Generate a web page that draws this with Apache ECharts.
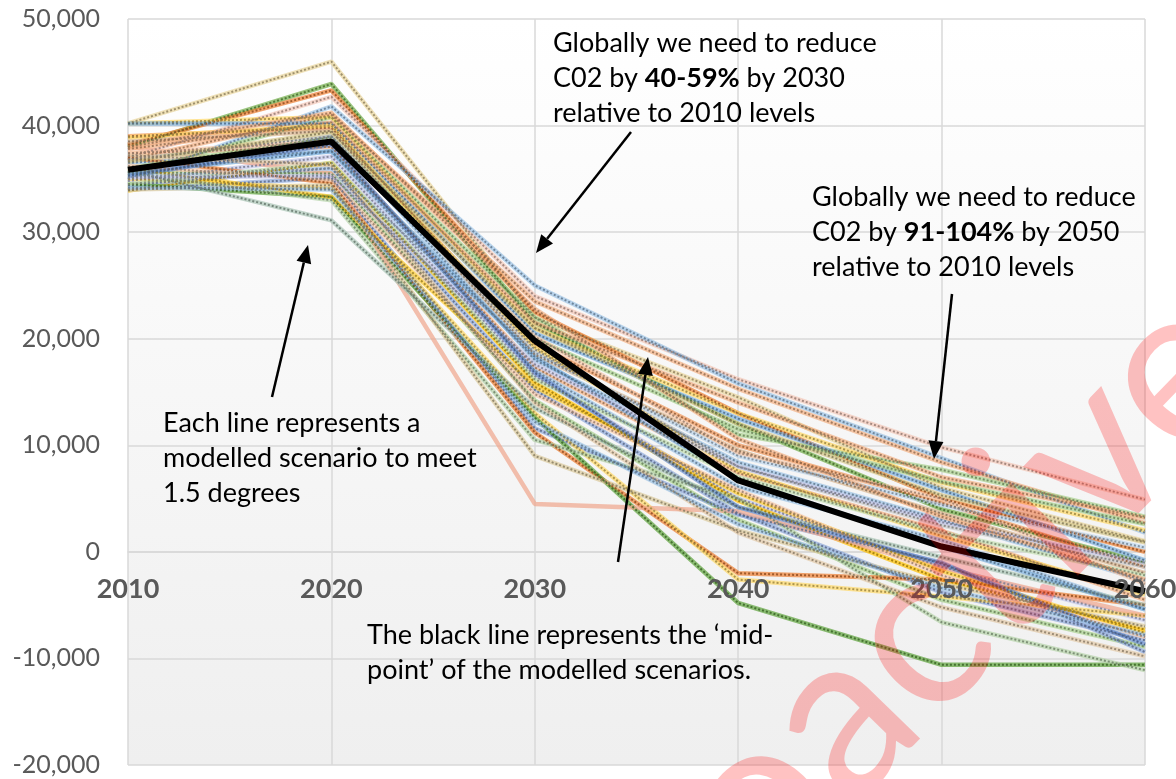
<!DOCTYPE html>
<html><head><meta charset="utf-8">
<script src="https://cdn.jsdelivr.net/npm/echarts@6/dist/echarts.min.js"></script>
<style>html,body{margin:0;padding:0;background:#fff}#c{width:1176px;height:779px}</style>
</head><body><div id="c"></div>
<script>
// ---- data ----
const years = ['2010', '2020', '2030', '2040', '2050', '2060'];
const yMin = -20000, yMax = 50000, yStep = 10000;
const midpoint = [35850, 38500, 19800, 6700, 500, -3700];

const sc01 = [40200, 46000, 22000, 14500, 6000, 1000];
const sc02 = [38000, 43900, 21500, 12000, 4000, -1000];
const sc03 = [38200, 43300, 22500, 13000, 5000, 0];
const sc04 = [37000, 42700, 24000, 16200, 9800, 4900];
const sc05 = [35000, 41800, 25000, 15800, 8800, 1800];
const sc06 = [36800, 41000, 23500, 15300, 8400, 2700];
const sc07 = [35500, 40800, 22000, 11000, 7700, 3300];
const sc08 = [40200, 40800, 21000, 13000, 6500, 2000];
const sc09 = [40200, 40200, 20500, 12500, 5800, -800];
const sc10 = [39000, 39800, 19500, 10000, 4600, -1400];
const sc11 = [38500, 39500, 18500, 9500, 3600, -2000];
const sc12 = [35000, 39000, 18000, 8400, 3000, -2700];
const sc13 = [37400, 38000, 17300, 7400, 2000, -4500];
const sc14 = [36500, 37600, 17000, 6100, 1100, -5400];
const sc15 = [34800, 37100, 16500, 5000, -1400, -6400];
const sc16 = [33900, 36500, 15900, 4800, -2600, -7300];
const sc17 = [34400, 36000, 15200, 3600, -3800, -8300];
const sc18 = [35600, 35500, 14200, 3000, -4500, -8900];
const sc19 = [34000, 35100, 11600, 3500, -1000, -9400];
const sc20 = [37000, 34600, 11200, -2000, -2600, -5000];
const sc21 = [35000, 34100, 13000, -2600, -4200, -6000];
const sc22 = [34500, 33300, 12600, -4800, -10600, -10600];
const sc23 = [35500, 33000, 10500, 5000, -6600, -11100];
const sc24 = [34000, 34400, 9000, 2000, -3000, -7000];
const sc25 = [38000, 35500, 4500, 3800, -1500, -6000];
const sc26 = [35800, 31100, 13500, 4200, -500, -5000];
const sc27 = [36000, 33300, 15500, 5500, -1800, -7600];
const sc28 = [35200, 36000, 18700, 9000, 4400, 400];
const sc29 = [36000, 38900, 20000, 11500, 6600, 2600];
const sc30 = [37800, 40300, 21500, 14000, 7000, 3200];
const sc31 = [36800, 39000, 19000, 8000, 2500, -1400];
const sc32 = [37400, 38500, 20200, 9300, 5000, -3000];
const sc33 = [38900, 40000, 19200, 7600, 1500, -4000];
const sc34 = [35500, 37600, 18300, 6800, 500, -5400];
const sc35 = [34500, 36500, 16200, 7000, 1800, -2200];
const sc36 = [36200, 34900, 14800, 5800, -2200, -8000];
const sc37 = [35100, 35300, 17600, 8000, 2800, -1000];
const sc38 = [38000, 41200, 22800, 10600, 3300, -2600];
const sc39 = [35300, 38200, 16800, 4200, -1100, -8700];
const sc40 = [36600, 39400, 21000, 12000, 5300, 900];
const sc41 = [37200, 36300, 14000, 1800, -5200, -9800];
const sc42 = [34200, 34000, 12200, 2600, -3400, -7800];

const scenarios = [sc01, sc02, sc03, sc04, sc05, sc06, sc07, sc08, sc09, sc10, sc11, sc12, sc13, sc14,
  sc15, sc16, sc17, sc18, sc19, sc20, sc21, sc22, sc23, sc24, sc25, sc26, sc27, sc28, sc29, sc30, sc31,
  sc32, sc33, sc34, sc35, sc36, sc37, sc38, sc39, sc40, sc41, sc42];

// ---- style ----
const lineColors = ['#E8D49A', '#70AD47', '#ED7D31', '#F4C7B8', '#9DC3E6', '#F4B183', '#A9D18E', '#FFD966',
  '#7CAFDD', '#F1975A', '#D9B38C', '#9DC3E6', '#F4B183', '#9DC3E6', '#C5C8EA', '#FFC000', '#8FAADC', '#A9D18E',
  '#8FAADC', '#ED7D31', '#FFD966', '#5CA33A', '#B5D3A8', '#DCCB9C', '#F0A58C', '#A9C4B5', '#FFCD33', '#BDD7EE',
  '#A9D18E', '#F4B183', '#C9C9C9', '#F8CBAD', '#FFD966', '#7CAFDD', '#C5E0B4', '#F8CBAD', '#C5C8EA', '#F4B183',
  '#698ED0', '#D6C78A', '#E2C9A6', '#9DC3E6'];
const solidOnly = [25];

function darken(hex, f) {
  const n = parseInt(hex.slice(1), 16);
  const r = Math.round(((n >> 16) & 255) * f), g = Math.round(((n >> 8) & 255) * f), b = Math.round((n & 255) * f);
  return 'rgb(' + r + ',' + g + ',' + b + ')';
}

const series = [];
scenarios.forEach(function (d, i) {
  const c = lineColors[i % lineColors.length];
  series.push({
    type: 'line', data: d, symbol: 'none', silent: true, z: 2, xAxisIndex: 0,
    lineStyle: { color: c, width: 4.5, opacity: 0.7 }
  });
  if (solidOnly.indexOf(i + 1) < 0) {
    series.push({
      type: 'line', data: d, symbol: 'none', silent: true, z: 3, xAxisIndex: 0,
      lineStyle: { color: darken(c, 0.62), width: 2, type: [2, 2], opacity: 0.85 }
    });
  }
});
series.push({
  type: 'line', data: midpoint, symbol: 'none', silent: true, z: 5, xAxisIndex: 0,
  lineStyle: { color: '#000', width: 6 }
});

// ---- annotations ----
const FONT = 'Lato, "Open Sans", sans-serif';
function arrow(x1, y1, x2, y2) {
  const a = Math.atan2(y2 - y1, x2 - x1), L = 18, W = 7.5;
  const bx = x2 - L * Math.cos(a), by = y2 - L * Math.sin(a);
  const px = -Math.sin(a), py = Math.cos(a);
  return [
    { type: 'line', silent: true, z: 20, shape: { x1: x1, y1: y1, x2: bx, y2: by }, style: { stroke: '#000', lineWidth: 2.5 } },
    { type: 'polygon', silent: true, z: 20, shape: { points: [[x2, y2], [bx + px * W, by + py * W], [bx - px * W, by - py * W]] }, style: { fill: '#000' } }
  ];
}
function note(x, y, text) {
  return {
    type: 'text', left: x, top: y, silent: true, z: 20,
    style: {
      text: text, fill: '#000', font: '27px ' + FONT, lineHeight: 35,
      rich: { b: { fontWeight: 'bold', fontSize: 27, fontFamily: FONT, lineHeight: 35, fill: '#000' } }
    }
  };
}

const graphics = [].concat(
  [note(553, 26, 'Globally we need to reduce\nC02 by {b|40-59%} by 2030\nrelative to 2010 levels')],
  [note(812, 180, 'Globally we need to reduce\nC02 by {b|91-104%} by 2050\nrelative to 2010 levels')],
  [note(163, 406, 'Each line represents a\nmodelled scenario to meet\n1.5 degrees')],
  [note(367, 618, 'The black line represents the \u2018mid-\npoint\u2019 of the modelled scenarios.')],
  arrow(631, 132, 536, 253),
  arrow(952, 294, 934, 459),
  arrow(272, 397, 308, 245),
  arrow(618, 562, 648, 357),
  [{
    type: 'text', x: 890, y: 664, rotation: 0.80, silent: true, z: 30,
    style: { text: 'proactive', font: '228px ' + FONT, fill: 'rgba(255,0,0,0.24)', align: 'center', verticalAlign: 'middle' }
  }]
);

const gridTop = 19, gridBottom = 14, chartH = 779;
const zeroY = gridTop + (chartH - gridTop - gridBottom) * (yMax / (yMax - yMin));
const axisOffset = -((chartH - gridBottom) - zeroY);

const chart = echarts.init(document.getElementById('c'), null, { renderer: 'canvas' });
chart.setOption({
  animation: false,
  backgroundColor: '#fff',
  grid: {
    left: 128, right: 31, top: gridTop, bottom: gridBottom, containLabel: false, outerBoundsMode: 'none',
    show: true, borderWidth: 0,
    backgroundColor: new echarts.graphic.LinearGradient(0, 0, 0, 1, [
      { offset: 0, color: '#ffffff' }, { offset: 1, color: '#efefef' }])
  },
  xAxis: [{
    type: 'category', data: years, boundaryGap: false, position: 'bottom', offset: axisOffset, z: 0,
    axisLine: { onZero: false, lineStyle: { color: '#d9d9d9', width: 1.5 } },
    axisTick: { show: false },
    axisLabel: { show: false },
    splitLine: { show: true, lineStyle: { color: '#d9d9d9', width: 1.5 } }
  }, {
    type: 'category', data: years, boundaryGap: false, position: 'bottom', offset: axisOffset, z: 10,
    axisLine: { show: false, onZero: false },
    axisTick: { show: false },
    axisLabel: { fontFamily: FONT, fontSize: 27, fontWeight: 'bold', color: '#595959', margin: 24, interval: 0, hideOverlap: false },
    splitLine: { show: false }
  }],
  yAxis: {
    type: 'value', min: yMin, max: yMax, interval: yStep,
    axisLine: { show: false }, axisTick: { show: false },
    axisLabel: {
      fontFamily: FONT, fontSize: 25, color: '#595959', margin: 28,
      formatter: function (v) { return v.toLocaleString('en-US'); }
    },
    splitLine: { lineStyle: { color: '#d9d9d9', width: 1.5 } }
  },
  series: series,
  graphic: graphics
});
</script></body></html>
